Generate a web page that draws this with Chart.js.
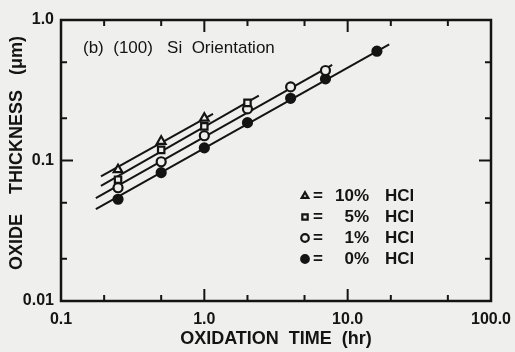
<!DOCTYPE html>
<html>
<head>
<meta charset="utf-8">
<script src="https://cdn.jsdelivr.net/npm/chart.js@4.4.1/dist/chart.umd.min.js"></script>
<style>
  html, body { margin: 0; padding: 0; background: #efefed; }
</style>
</head>
<body>
<canvas id="chart" width="515" height="352"></canvas>
<script>
// oxidation times (hr) and measured oxide thickness (um)
const times = [0.25, 0.5, 1, 2, 4, 7, 16];
const hcl10 = [0.086, 0.137, 0.200];
const hcl5 = [0.073, 0.119, 0.175, 0.257];
const hcl1 = [0.064, 0.098, 0.150, 0.233, 0.334, 0.437];
const hcl0 = [0.053, 0.082, 0.123, 0.186, 0.277, 0.381, 0.600];

// straight fit lines, end points
const fitTimes10 = [0.19, 1.15];
const fit10 = [0.077, 0.215];
const fitTimes5 = [0.19, 2.4];
const fit5 = [0.066, 0.29];
const fitTimes1 = [0.175, 7.8];
const fit1 = [0.054, 0.48];
const fitTimes0 = [0.175, 19.5];
const fit0 = [0.045, 0.67];

const percentLabels = ['10%', '5%', '1%', '0%'];
const gasLabel = 'HCl';
const noteText = '(b)  (100)   Si  Orientation';

const xTicks = [0.1, 0.2, 0.5, 1, 2, 5, 10, 20, 50, 100];
const xTickLabels = { 0.1: '0.1', 1: '1.0', 10: '10.0', 100: '100.0' };
const yTicks = [0.01, 0.02, 0.05, 0.1, 0.2, 0.5, 1];
const yTickLabels = { 0.01: '0.01', 0.1: '0.1', 1: '1.0' };

const ink = '#141414';
const paper = '#efefed';
const boldFont = { family: 'Liberation Sans', weight: 'bold', size: 16 };
const titleFont = { family: 'Liberation Sans', weight: 'bold', size: 18 };

const pts = (xs, ys) => ys.map((y, i) => ({ x: xs[i], y }));

function fitLine(xs, ys) {
    return {
        data: pts(xs, ys),
        showLine: true,
        borderColor: ink,
        borderWidth: 2,
        pointRadius: 0,
        order: 2
    };
}

function marker(label, ys, style, fill) {
    return {
        label,
        data: pts(times, ys),
        showLine: false,
        pointStyle: style,
        pointRadius: style === 'triangle' ? 5 : 4.5,
        pointBackgroundColor: fill,
        pointBorderColor: ink,
        pointBorderWidth: 2.2,
        order: 1
    };
}

const markers = [
    marker('10% HCl', hcl10, 'triangle', paper),
    marker('5% HCl', hcl5, 'rect', paper),
    marker('1% HCl', hcl1, 'circle', paper),
    marker('0% HCl', hcl0, 'circle', ink)
];

// frame with inward ticks on all four sides, note text and key
const framePlugin = {
    id: 'frame',
    beforeDatasetsDraw(chart) {
        const { ctx, chartArea: a, scales: { x, y } } = chart;
        ctx.save();
        ctx.strokeStyle = ink;
        ctx.lineWidth = 2.5;
        ctx.strokeRect(a.left, a.top, a.right - a.left, a.bottom - a.top);
        ctx.lineWidth = 2;
        ctx.beginPath();
        xTicks.forEach(v => {
            const px = x.getPixelForValue(v);
            const len = xTickLabels[v] ? 12 : 6;
            ctx.moveTo(px, a.bottom); ctx.lineTo(px, a.bottom - len);
            ctx.moveTo(px, a.top); ctx.lineTo(px, a.top + len);
        });
        yTicks.forEach(v => {
            const py = y.getPixelForValue(v);
            const len = yTickLabels[v] ? 12 : 6;
            ctx.moveTo(a.left, py); ctx.lineTo(a.left + len, py);
            ctx.moveTo(a.right, py); ctx.lineTo(a.right - len, py);
        });
        ctx.stroke();
        ctx.restore();
    },
    afterDatasetsDraw(chart) {
        const { ctx, chartArea: a } = chart;
        ctx.save();
        ctx.fillStyle = ink;
        ctx.textBaseline = 'middle';
        ctx.font = '17px "Liberation Sans"';
        ctx.fillText(noteText, a.left + 22, a.top + 28);

        // key
        ctx.font = 'bold 17px "Liberation Sans"';
        markers.forEach((ds, i) => {
            const cy = a.top + 176 + i * 21;
            const cx = a.left + 244;
            ctx.fillStyle = ds.pointBackgroundColor;
            ctx.strokeStyle = ds.pointBorderColor;
            ctx.lineWidth = ds.pointBorderWidth;
            Chart.helpers.drawPoint(ctx, { pointStyle: ds.pointStyle, radius: 3.8, borderWidth: ds.pointBorderWidth, rotation: 0 }, cx, cy);
            ctx.fillStyle = ink;
            ctx.textAlign = 'left';
            ctx.fillText('=', cx + 8, cy);
            ctx.textAlign = 'right';
            ctx.fillText(percentLabels[i], cx + 64, cy);
            ctx.textAlign = 'left';
            ctx.fillText(gasLabel, cx + 80, cy);
        });
        ctx.restore();
    }
};

new Chart(document.getElementById('chart'), {
    type: 'scatter',
    data: {
        datasets: [
            fitLine(fitTimes10, fit10),
            fitLine(fitTimes5, fit5),
            fitLine(fitTimes1, fit1),
            fitLine(fitTimes0, fit0),
            ...markers
        ]
    },
    options: {
        responsive: false,
        animation: false,
        devicePixelRatio: 1,
        layout: { padding: { left: 0, top: 20, right: 24, bottom: 0 } },
        plugins: {
            legend: { display: false },
            tooltip: { enabled: false }
        },
        scales: {
            x: {
                type: 'logarithmic',
                min: 0.1,
                max: 100,
                afterBuildTicks: s => { s.ticks = xTicks.map(v => ({ value: v })); },
                afterFit: s => {
                    s.height = 51;
                    s.paddingLeft = 0;
                    s.paddingRight = 0;
                },
                grid: { display: false, drawTicks: false },
                border: { display: false },
                ticks: {
                    autoSkip: false,
                    maxRotation: 0,
                    padding: 9,
                    color: ink,
                    font: boldFont,
                    callback: v => xTickLabels[v] || ''
                },
                title: {
                    display: true,
                    text: 'OXIDATION  TIME  (hr)',
                    color: ink,
                    font: titleFont,
                    padding: { top: 0, bottom: 2 }
                }
            },
            y: {
                type: 'logarithmic',
                min: 0.01,
                max: 1,
                afterBuildTicks: s => { s.ticks = yTicks.map(v => ({ value: v })); },
                afterFit: s => {
                    s.width = 61;
                    s.paddingTop = 0;
                    s.paddingBottom = 0;
                },
                grid: { display: false, drawTicks: false },
                border: { display: false },
                ticks: {
                    autoSkip: false,
                    padding: 7,
                    color: ink,
                    font: boldFont,
                    callback: v => yTickLabels[v] || ''
                },
                title: {
                    display: true,
                    text: '   OXIDE    THICKNESS   (\u03bcm)',
                    color: ink,
                    font: titleFont,
                    padding: { top: 6, bottom: 0 }
                }
            }
        }
    },
    plugins: [framePlugin]
});
</script>
</body>
</html>
